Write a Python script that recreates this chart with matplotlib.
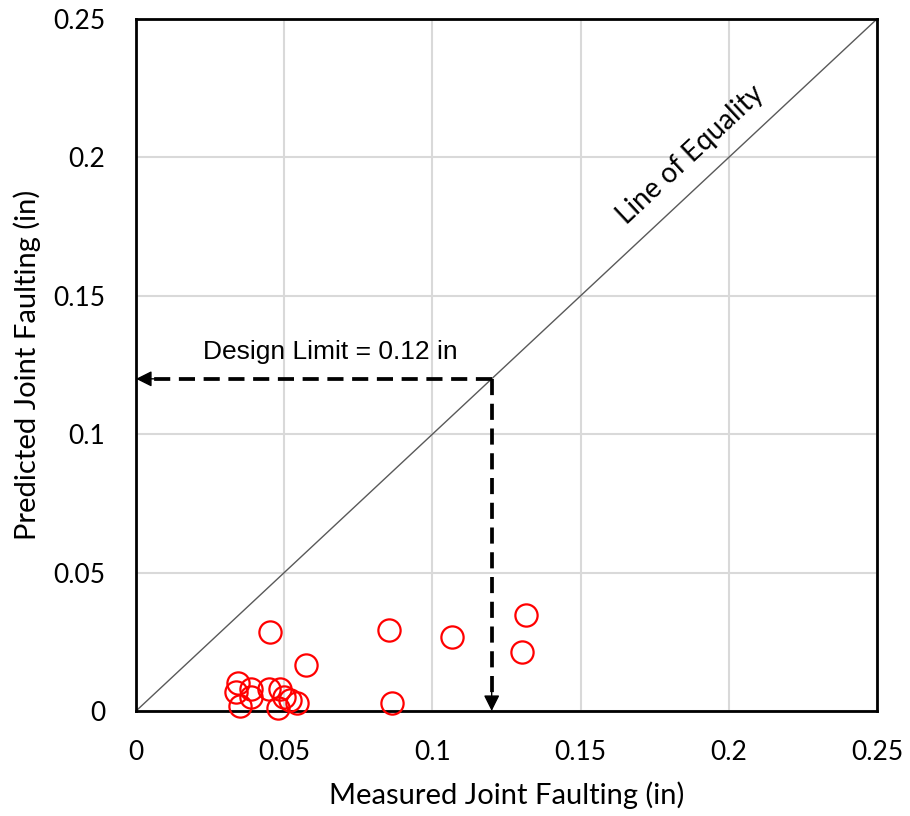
import matplotlib
matplotlib.use("Agg")
import matplotlib.pyplot as plt

# measured vs predicted joint faulting (in)
measured = [0.0345, 0.0338, 0.0350, 0.0388, 0.0388, 0.0450, 0.0486, 0.0480,
            0.0500, 0.0520, 0.0543, 0.0452, 0.0574, 0.0855, 0.0863, 0.1065,
            0.1303, 0.1315]
predicted = [0.0101, 0.0069, 0.0018, 0.0080, 0.0050, 0.0080, 0.0080, 0.0010,
             0.0050, 0.0040, 0.0029, 0.0287, 0.0166, 0.0293, 0.0028, 0.0268,
             0.0212, 0.0347]

ticks = [0, 0.05, 0.1, 0.15, 0.2, 0.25]
tick_labels = ["0", "0.05", "0.1", "0.15", "0.2", "0.25"]
design_limit = 0.12

label_font = "Lato"

fig = plt.figure(figsize=(9.1, 8.16), dpi=100)
ax = fig.add_axes([0.1495, 0.1287, 0.8142, 0.848])

ax.set_xlim(0, 0.25)
ax.set_ylim(0, 0.25)
ax.set_xticks(ticks)
ax.set_yticks(ticks)
ax.set_xticklabels(tick_labels, fontsize=19, family=label_font)
ax.set_yticklabels(tick_labels, fontsize=19, family=label_font)
ax.tick_params(axis="x", length=0, pad=21)
ax.tick_params(axis="y", length=0, pad=22)
ax.grid(True, color="#d9d9d9", linewidth=1.5)
ax.set_axisbelow(True)
for sp in ax.spines.values():
    sp.set_linewidth(2)
    sp.set_color("black")

# line of equality
ax.plot([0, 0.25], [0, 0.25], color="#595959", linewidth=1, zorder=2)
ax.text(0.187, 0.201, "Line of Equality", rotation=43, fontsize=20,
        family=label_font, ha="center", va="center", rotation_mode="anchor")

# design limit guides
dash = dict(color="black", linewidth=2.7, dashes=(4.3, 2.3), zorder=3)
ax.plot([design_limit, 0.006], [design_limit, design_limit], **dash)
ax.plot([design_limit, design_limit], [design_limit, 0.006], **dash)
head = dict(arrowstyle="-|>", color="black", lw=1, mutation_scale=24,
            shrinkA=0, shrinkB=0)
ax.annotate("", xy=(0, design_limit), xytext=(0.007, design_limit),
            arrowprops=head, zorder=4)
ax.annotate("", xy=(design_limit, 0), xytext=(design_limit, 0.007),
            arrowprops=head, zorder=4)
ax.text(0.0655, 0.1297, "Design Limit = 0.12 in", fontsize=19,
        family="Liberation Sans", ha="center", va="center")

ax.plot(measured, predicted, linestyle="none", marker="o", markersize=16,
        markerfacecolor="none", markeredgecolor="red", markeredgewidth=1.6,
        zorder=5, clip_on=False)

ax.set_xlabel("Measured Joint Faulting (in)", fontsize=21, family=label_font,
              labelpad=12)
ax.set_ylabel("Predicted Joint Faulting (in)", fontsize=21, family=label_font,
              labelpad=9)

fig.savefig("out.png", dpi=100)
